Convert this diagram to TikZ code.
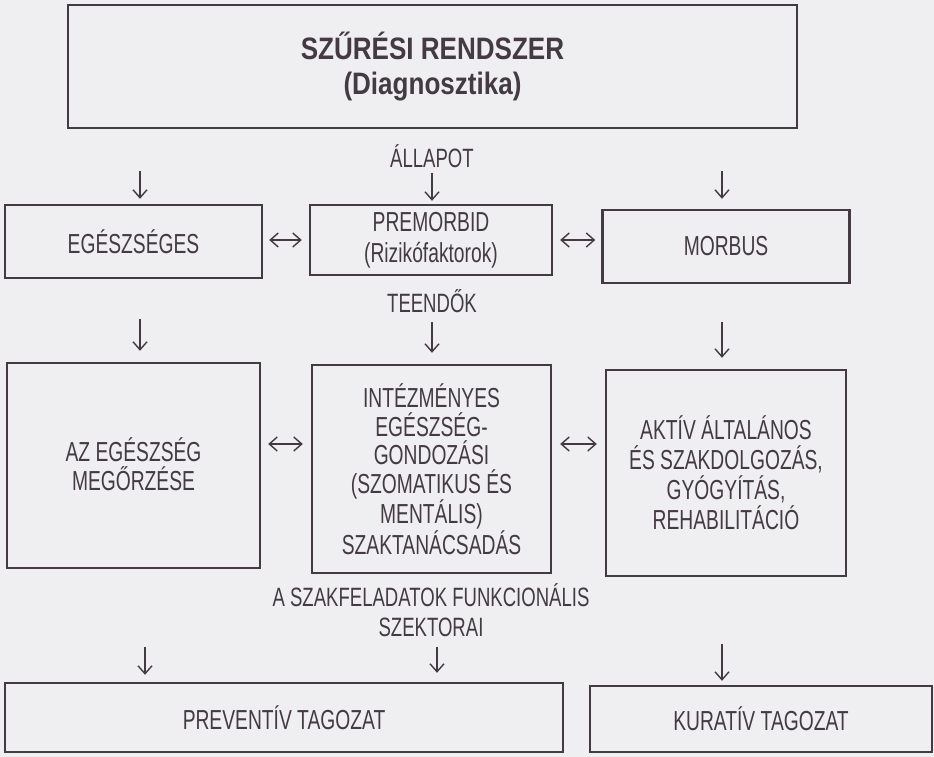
\documentclass[tikz,border=0pt]{standalone}
\usepackage{fontspec}
\setmainfont{Liberation Sans}[FakeStretch=0.70]
\newfontfamily\titlefont{Liberation Sans}[FakeStretch=0.84]
\usetikzlibrary{arrows.meta}
\definecolor{ink}{RGB}{68,58,66}
\definecolor{paper}{RGB}{239,239,242}
\begin{document}
\begin{tikzpicture}[x=1pt,y=-1pt,
  box/.style={draw=ink, line width=2.4pt, rectangle, inner sep=0pt, align=center,
    text=ink, font=\fontsize{27.5}{29}\selectfont},
  lbl/.style={text=ink, align=center, inner sep=0pt, font=\fontsize{26.5}{29}\selectfont},
  arr/.style={draw=ink, line width=1.4pt, -{Straight Barb[length=8pt,width=14pt,line width=1.4pt]}},
  darr/.style={draw=ink, line width=1.4pt, {Straight Barb[length=8pt,width=14pt,line width=1.4pt]}-{Straight Barb[length=8pt,width=14pt,line width=1.4pt]}}
]
\fill[paper] (0,0) rectangle (934,757);
\useasboundingbox (0,0) rectangle (934,757);

% boxes
\node[box, minimum width=729pt, minimum height=123pt,
  font=\titlefont\bfseries\fontsize{31}{35}\selectfont] (top) at (432.5,66.5)
  {SZŰRÉSI RENDSZER\\(Diagnosztika)};
\node[box, minimum width=257pt, minimum height=73pt] (egesz) at (133.5,241.5) {EGÉSZSÉGES};
\node[box, minimum width=242pt, minimum height=70pt, font=\fontsize{27.5}{31}\selectfont] (premorbid) at (431,240) {PREMORBID\\(Rizikófaktorok)};
\node[box, minimum width=247pt, minimum height=73pt] (morbus) at (726,246.5) {MORBUS};

\node[box, minimum width=253pt, minimum height=205pt] (az) at (133.5,465.5) {\\[-8pt]AZ EGÉSZSÉG\\MEGŐRZÉSE};
\node[box, minimum width=239pt, minimum height=208pt, font=\fontsize{27.5}{28.5}\selectfont] (intez) at (431.5,469)
  {INTÉZMÉNYES\\EGÉSZSÉG-\\GONDOZÁSI\\(SZOMATIKUS ÉS\\MENTÁLIS)\\SZAKTANÁCSADÁS};
\node[box, minimum width=240pt, minimum height=206pt, font=\fontsize{27.5}{30}\selectfont] (aktiv) at (726,473)
  {AKTÍV ÁLTALÁNOS\\ÉS SZAKDOLGOZÁS,\\GYÓGYÍTÁS,\\REHABILITÁCIÓ};

\node[box, minimum width=558pt, minimum height=69pt] (prev) at (284,717.5) {PREVENTÍV TAGOZAT};
\node[box, minimum width=342pt, minimum height=66pt] (kur) at (761,719) {KURATÍV TAGOZAT};

% labels
\node[lbl, anchor=base] (allapot) at (432,167) {ÁLLAPOT};
\node[lbl, anchor=base] (teendok) at (432,312) {TEENDŐK};
\node[lbl, anchor=base] (szak) at (431,606) {A SZAKFELADATOK FUNKCIONÁLIS};
\node[lbl, anchor=base] (szektorai) at (431,636) {SZEKTORAI};

% down arrows row 1
\coordinate (d1a) at (140,171);
\coordinate (d1b) at (432,173);
\coordinate (d1c) at (722,171);
\draw[arr, shorten >=5pt] (d1a) -- (d1a |- egesz.north);
\draw[arr, shorten >=3pt] (d1b) -- (d1b |- premorbid.north);
\draw[arr, shorten >=10pt] (d1c) -- (d1c |- morbus.north);

% down arrows row 2
\coordinate (d2a) at (140,319);
\coordinate (d2b) at (432,322);
\coordinate (d2c) at (722,322);
\draw[arr, shorten >=11pt] (d2a) -- (d2a |- az.north);
\draw[arr, shorten >=11pt] (d2b) -- (d2b |- intez.north);
\draw[arr, shorten >=11pt] (d2c) -- (d2c |- aktiv.north);

% down arrows row 3
\coordinate (d3a) at (145,647);
\coordinate (d3b) at (437,647);
\coordinate (d3c) at (722,644);
\draw[arr, shorten >=7pt] (d3a) -- (d3a |- prev.north);
\draw[arr, shorten >=9pt] (d3b) -- (d3b |- prev.north);
\draw[arr, shorten >=4pt] (d3c) -- (d3c |- kur.north);

% horizontal double arrows
\coordinate (h1) at (0,240);
\coordinate (h2) at (0,444);
\draw[darr, shorten <=6pt, shorten >=7pt] (egesz.east |- h1) -- (premorbid.west |- h1);
\draw[darr, shorten <=7pt, shorten >=6pt] (premorbid.east |- h1) -- (morbus.west |- h1);
\draw[darr, shorten <=7pt, shorten >=8pt] (az.east |- h2) -- (intez.west |- h2);
\draw[darr, shorten <=8pt, shorten >=8pt] (intez.east |- h2) -- (aktiv.west |- h2);
\end{tikzpicture}
\end{document}
